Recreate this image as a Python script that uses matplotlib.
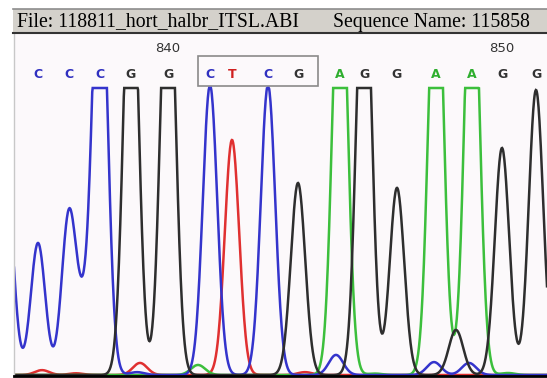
import numpy as np
import matplotlib
matplotlib.use("Agg")
import matplotlib.pyplot as plt
from matplotlib.patches import Rectangle

# base calls: letter, scan position, peak signal
bases = ["C", "C", "C", "G", "G", "C", "T", "C", "G", "A", "G", "G", "A", "A", "G", "G"]
base_pos = [38, 69, 100, 131, 168, 210, 232, 268, 298, 340, 364, 397, 436, 472, 502, 536]
base_height = [460, 560, 1600, 1600, 1600, 1010, 819, 1010, 669, 1600, 1600, 652, 1600, 1600, 791, 993]
first_base_number = 836

# minor / background peaks per channel: (position, height)
extra_peaks = {
    "C": [(6, 690), (84, 170), (137, 10), (336, 70), (434, 45), (469, 42)],
    "T": [(42, 17), (76, 6), (140, 42), (305, 10)],
    "A": [(198, 35), (375, 5), (508, 7)],
    "G": [(456, 157)],
}

colors = {"A": "#3cbf3c", "C": "#3434cc", "G": "#2e2e2e", "T": "#e03030"}
label_colors = {"A": "#2fae2f", "C": "#3030c0", "G": "#333333", "T": "#d02020"}

sigma = 7.2
ceiling = 1000
scans = np.linspace(14, 547, 1200)


def trace(channel):
    y = np.zeros_like(scans)
    peaks = [(p, h) for b, p, h in zip(bases, base_pos, base_height) if b == channel]
    peaks += extra_peaks[channel]
    for p, h in peaks:
        y += h * np.exp(-(scans - p) ** 2 / (2 * sigma ** 2))
    return np.minimum(y, ceiling)


W, H = 547, 378
fig = plt.figure(figsize=(W / 100, H / 100), dpi=100)
fig.patch.set_facecolor("white")

px_per_unit = 287 / ceiling
ax = fig.add_axes([14 / W, (H - 376) / H, 1 - 14 / W, (376 - 33) / H])
ax.set_facecolor("#fcf9fb")
ax.set_xlim(14, 547)
ax.set_ylim(-1 / px_per_unit, (375 - 33) / px_per_unit)

for ch in ["T", "A", "C", "G"]:
    ax.plot(scans, trace(ch), color=colors[ch], lw=1.8, solid_joinstyle="miter")

# base letters and position numbers
for i, (b, p) in enumerate(zip(bases, base_pos)):
    ax.text(p, (375 - 75) / px_per_unit, b, color=label_colors[b], ha="center", va="center",
            fontsize=9, fontweight="bold", family="DejaVu Sans")
    num = first_base_number + i
    if num % 10 == 0:
        ax.text(p, (375 - 49) / px_per_unit, str(num), color="#333333", ha="center", va="center",
                fontsize=9.5, family="DejaVu Sans")

# highlighted region around CTCG
ax.add_patch(Rectangle((198, (375 - 86) / px_per_unit), 120, 30 / px_per_unit,
                       fill=False, edgecolor="#8a8a8a", lw=1.2))

for side in ["top", "right"]:
    ax.spines[side].set_visible(False)
ax.spines["left"].set_color("#c8c8c8")
ax.spines["left"].set_linewidth(1)
ax.spines["bottom"].set_color("black")
ax.spines["bottom"].set_linewidth(2)
ax.set_xticks([])
ax.set_yticks([])

# title bar
fig.patches.append(Rectangle((13 / W, (H - 33) / H), 1 - 13 / W, 24 / H, transform=fig.transFigure,
                             facecolor="#d4d1cb", edgecolor="none"))
fig.add_artist(plt.Line2D([13 / W, 1], [(H - 9) / H] * 2, color="#8c8c8c", lw=1.2))
fig.add_artist(plt.Line2D([13 / W, 1], [(H - 33) / H] * 2, color="#333333", lw=1.5))
fig.text(17 / W, (H - 22) / H, "File: 118811_hort_halbr_ITSL.ABI", family="Liberation Serif",
         fontsize=14.2, va="center", ha="left", color="black")
fig.text(333 / W, (H - 22) / H, "Sequence Name: 115858", family="Liberation Serif",
         fontsize=14.2, va="center", ha="left", color="black")

fig.savefig("out.png", dpi=100)
